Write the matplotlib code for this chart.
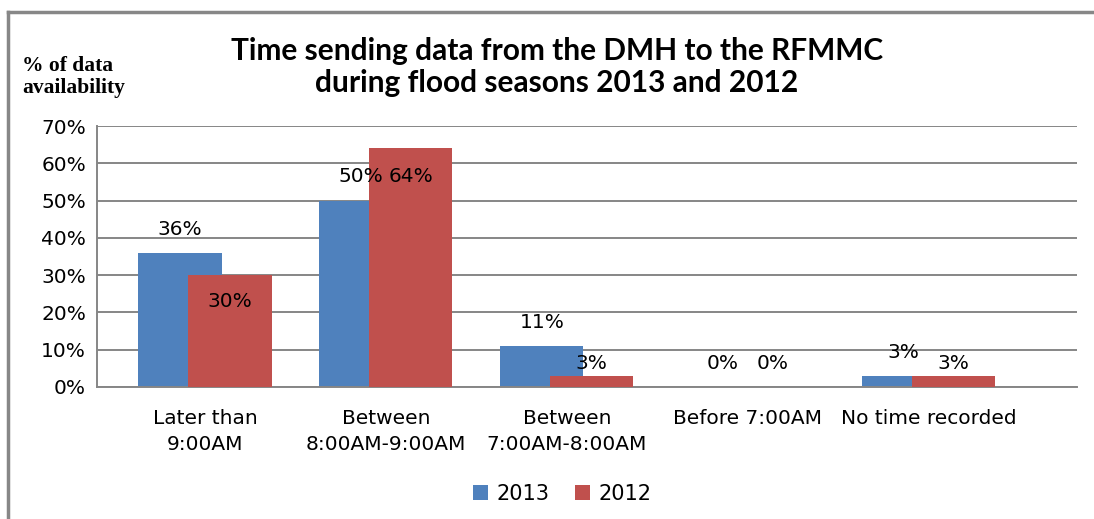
import matplotlib.pyplot as plt
import numpy as np
from matplotlib.lines import Line2D

categories = ["Later than\n9:00AM", "Between\n8:00AM-9:00AM", "Between\n7:00AM-8:00AM",
              "Before 7:00AM", "No time recorded"]
vals_2013 = [36, 50, 11, 0, 3]
vals_2012 = [30, 64, 3, 0, 3]
yticks = [0, 10, 20, 30, 40, 50, 60, 70]

blue = "#4F81BD"
red = "#C0504D"
grey = "#868686"

fig = plt.figure(figsize=(10.94, 5.19), dpi=100)
ax = fig.add_axes([97 / 1094, 1 - 387 / 519, 980 / 1094, 261 / 519])

x = np.arange(len(categories))
w = 0.46
off = 0.276
b1 = ax.bar(x - off / 2, vals_2013, w, color=blue, label="2013", zorder=2)
b2 = ax.bar(x + off / 2, vals_2012, w, color=red, label="2012", zorder=3)

ax.set_xlim(-0.597, 4.82)
ax.set_ylim(0, 70)
ax.set_yticks(yticks)
ax.set_yticklabels([f"{t}%" for t in yticks])
ax.set_xticks(x)
ax.set_xticklabels(categories, linespacing=1.45)
ax.tick_params(axis="both", length=0, labelsize=14.5, colors="black")
ax.tick_params(axis="y", pad=8)
ax.tick_params(axis="x", pad=16)
ax.yaxis.grid(True, color=grey, lw=1.4, zorder=0)
for s in ["top", "right"]:
    ax.spines[s].set_visible(False)
for s in ["left", "bottom"]:
    ax.spines[s].set_color(grey)
    ax.spines[s].set_linewidth(1.4)

# value labels: 2013 above the bars, 2012 placed by hand around the overlap
for rect, v in zip(b1, vals_2013):
    ax.annotate(f"{v}%", (rect.get_x() + rect.get_width() / 2, v),
                xytext=(0, 17), textcoords="offset points",
                ha="center", va="center", fontsize=14.5, zorder=5)
red_dy = [-19, -20, 9, 17, 9]
for rect, v, dy in zip(b2, vals_2012, red_dy):
    ax.annotate(f"{v}%", (rect.get_x() + rect.get_width() / 2, v),
                xytext=(0, dy), textcoords="offset points",
                ha="center", va="center", fontsize=14.5, zorder=5)

fig.text(557 / 1094, 1 - 67 / 519,
         "Time sending data from the DMH to the RFMMC\nduring flood seasons 2013 and 2012",
         ha="center", va="center", fontsize=21.5, fontweight="bold", family="Lato",
         linespacing=1.15)
fig.text(22 / 1094, 1 - 77 / 519, "% of data\navailability", ha="left", va="center",
         fontsize=15.5, fontweight="bold", family="Liberation Serif", linespacing=1.1)

ax.legend(loc="center", bbox_to_anchor=(562 / 1094, 1 - 494 / 519),
          bbox_transform=fig.transFigure, ncol=2, frameon=False, fontsize=15,
          handlelength=0.75, handleheight=0.75, handletextpad=0.4, columnspacing=1.2)

# outer chart border (left and top edges)
fig.add_artist(Line2D([8 / 1094, 8 / 1094], [0, 1 - 12 / 519], color="#878787", lw=2.5))
fig.add_artist(Line2D([8 / 1094, 1], [1 - 12 / 519, 1 - 12 / 519], color="#878787", lw=2.5))

fig.savefig("out.png", dpi=100)
